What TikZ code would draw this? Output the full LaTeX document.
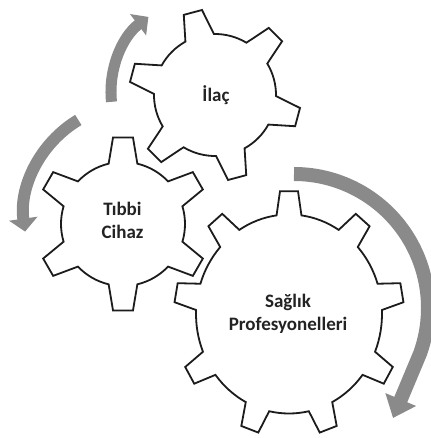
\documentclass[tikz,border=0pt]{standalone}
\usepackage{fontspec}
\setmainfont{Carlito}
\usetikzlibrary{arrows.meta}

\definecolor{gearink}{RGB}{28,28,28}
\definecolor{arrowgray}{RGB}{138,138,138}
\definecolor{labelink}{RGB}{35,35,35}

% #1 tip radius, #2 root radius, #3 number of teeth,
% #4 angle of the first tooth, #5 half-angle of a tooth at the root,
% #6 half-angle of a tooth at the tip
\newcommand{\gearoutline}[6]{%
  \pgfmathsetmacro{\gearpitch}{360/#3}%
  \pgfmathtruncatemacro{\gearlast}{#3-1}%
  \filldraw[gearline] ({#4-#5}:#2pt)
    \foreach \k in {0,...,\gearlast}{
      -- ({#4+\k*\gearpitch-#6}:#1pt)
      -- ({#4+\k*\gearpitch+#6}:#1pt)
      -- ({#4+\k*\gearpitch+#5}:#2pt)
      arc[start angle={#4+\k*\gearpitch+#5},
          end angle={#4+(\k+1)*\gearpitch-#5}, radius=#2pt]
    } -- cycle;
}

\tikzset{
  gearline/.style={draw=gearink, fill=white, line width=1.8pt, line join=miter},
  flowarrow/.style={draw=arrowgray, line cap=butt},
  gearlabel/.style={font=\bfseries\fontsize{19}{22.5}\selectfont, text=labelink,
    align=center, inner sep=0pt},
}

\begin{document}
\begin{tikzpicture}[x=1pt, y=1pt]
  \fill[white] (0,0) rectangle (430,438);
  \useasboundingbox (0,0) rectangle (430,438);

  % centres of the circular arrows
  \coordinate (arcA) at (205,346);
  \coordinate (arcB) at (136,222);
  \coordinate (arcC) at (294,130);
  \coordinate (tipC) at (393,20);

  % gears
  \begin{scope}[shift={(215,343)}]
    \gearoutline{86}{61}{6}{105}{14}{6.3}
  \end{scope}
  \begin{scope}[shift={(123,214)}]
    \gearoutline{87}{62}{6}{90}{13.4}{6.6}
  \end{scope}
  \begin{scope}[shift={(289,124)}, yscale=1.07]
    \gearoutline{115}{93}{9}{90}{7.7}{4.5}
  \end{scope}

  % labels
  \node[gearlabel] (drug) at (216,343) {İlaç};
  \node[gearlabel] (device) at (122.5,217.5) {Tıbbi\\Cihaz};
  \node[gearlabel] (staff) at (288,124) {Sağlık\\Profesyonelleri};

  % rotation arrows
  \draw[flowarrow, line width=11pt, -{Triangle[width=26pt,length=13pt]}]
    ([shift={(186:94pt)}]arcA) arc[start angle=186, end angle=127, radius=94pt];
  \draw[flowarrow, line width=12pt, -{Triangle[width=28pt,length=13pt]}]
    ([shift={(121:112pt)}]arcB) arc[start angle=121, end angle=188, radius=112pt];
  \draw[flowarrow, line width=14pt, -{Triangle[width=32pt,length=20pt]}]
    ([shift={(90:134pt)}]arcC) arc[start angle=90, end angle=-20, radius=134pt]
    -- (tipC);
\end{tikzpicture}
\end{document}
